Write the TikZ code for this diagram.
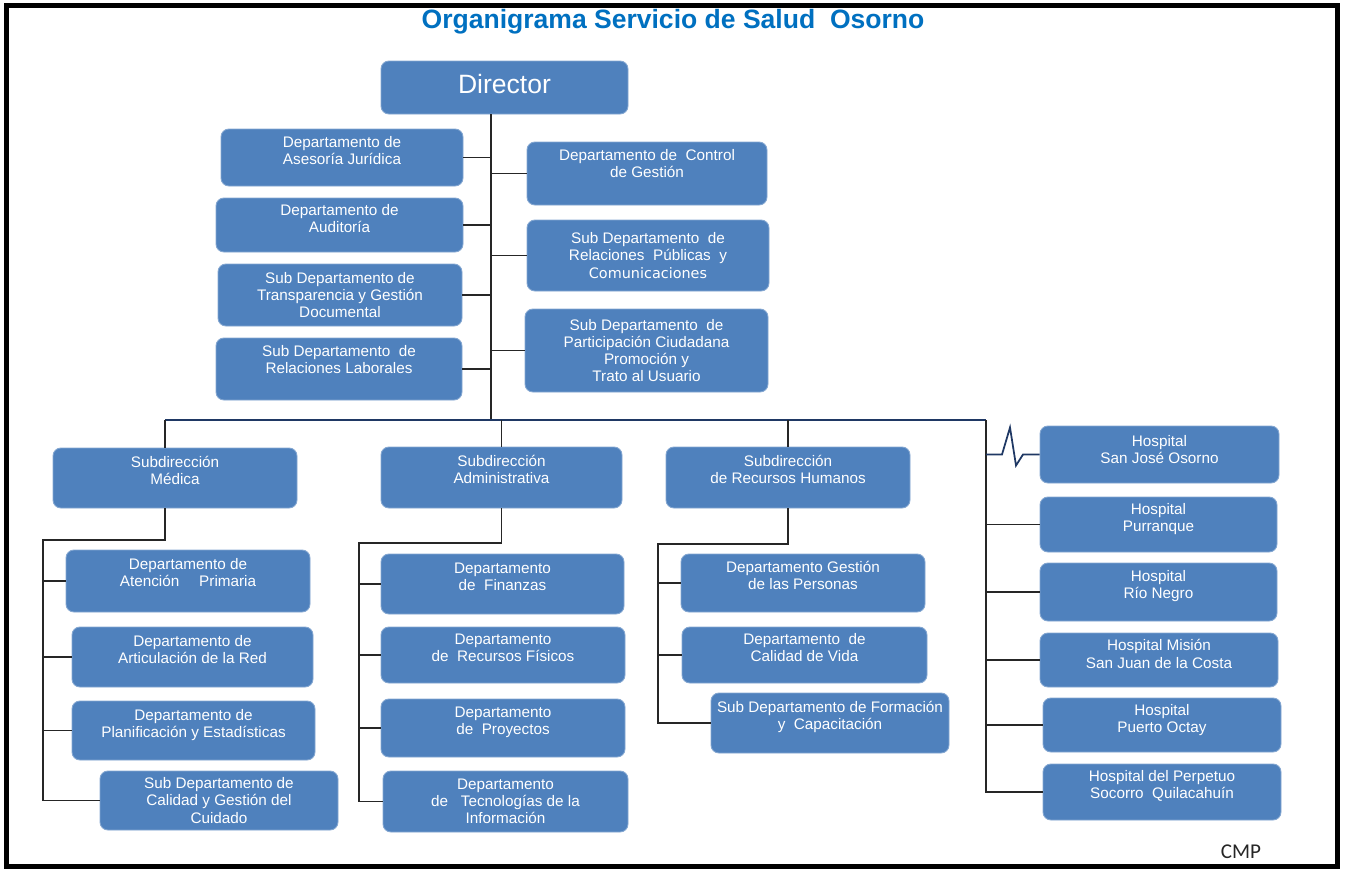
\documentclass[tikz,border=0pt]{standalone}
\usepackage{fontspec}
\setmainfont{Liberation Sans}
\newfontfamily\calfont{Carlito}
\newfontfamily\dvfont{DejaVu Sans}
\usepackage{tikz}
\definecolor{boxblue}{HTML}{4F81BD}
\definecolor{titleblue}{HTML}{0070C0}
\definecolor{barnavy}{HTML}{1F3864}

\begin{document}
\begin{tikzpicture}[x=0.02cm,y=-0.02cm,
  box/.style={fill=boxblue,draw=boxblue!70!white,line width=0.5pt,rounded corners=4.5pt,
    text=white,align=center,inner sep=0pt,font=\fontsize{8.7}{9.7}\selectfont},
  sz/.style 2 args={minimum width=#1*0.02cm,minimum height=#2*0.02cm},
  lift/.style={execute at end node={\rule[-#1]{0pt}{0pt}}},
  lift/.default=8.5pt,
  link/.style={line width=0.8pt,black!85},
  bar/.style={line width=1.4pt,barnavy}]
\useasboundingbox (0,0) rectangle (1346,869);
\draw[line width=2.8pt] (6.5,5.5) rectangle (1337.5,866.5);
\node (title) at (673,28) [anchor=base,text=titleblue,font=\bfseries\fontsize{15.1}{18}\selectfont] {Organigrama Servicio de Salud\ \ Osorno};
\node (dir) at (504.5,87.5) [box,lift=4pt,sz={247}{53},font=\fontsize{15.1}{17}\selectfont] {Director};
\node (ases) at (342,157.5) [box,lift,sz={242}{57}] {Departamento de\\Asesoría Jurídica};
\node (audit) at (339.5,225) [box,lift=7pt,sz={247}{54}] {Departamento de\\Auditoría};
\node (transp) at (340,295) [box,sz={244}{62}] {Sub Departamento de\\Transparencia y Gestión\\Documental};
\node (laboral) at (339,369) [box,lift=11pt,sz={246}{62}] {Sub Departamento\ \ de\\Relaciones Laborales};
\node (control) at (647,173.5) [box,lift=11pt,sz={240}{63}] {Departamento de\ \ Control\\de Gestión};
\node (relpub) at (648,255.5) [box,sz={242}{71}] {Sub Departamento\ \ de\\Relaciones\ \ Públicas\ \ y\\[1pt]{\dvfont\fontsize{8.2}{10}\selectfont Comunicaciones}};
\node (partic) at (646.5,350.5) [box,sz={243}{83}] {Sub Departamento\ \ de\\Participación Ciudadana\\Promoción y\\Trato al Usuario};
\node (subMed) at (175,478) [box,lift,sz={244}{60}] {Subdirección\\Médica};
\node (subAdm) at (501.5,477.5) [box,lift=9pt,sz={241}{61}] {Subdirección\\Administrativa};
\node (subRH) at (788,477.5) [box,lift=9pt,sz={244}{61}] {Subdirección\\de Recursos Humanos};
\node (aps) at (188,581) [box,lift=9.5pt,sz={244}{62}] {Departamento de\\Atención\hspace{1.3em}Primaria};
\node (red) at (192.5,657) [box,lift,sz={241}{60}] {Departamento de\\Articulación de la Red};
\node (plan) at (193.5,730.5) [box,lift,sz={243}{59}] {Departamento de\\Planificación y Estadísticas};
\node (cal) at (219,800.5) [box,sz={238}{59}] {Sub Departamento de\\Calidad y Gestión del\\Cuidado};
\node (fin) at (502.5,584) [box,lift,sz={243}{60}] {Departamento\\de\ \ Finanzas};
\node (recf) at (503,655) [box,lift,sz={244}{56}] {Departamento\\de\ \ Recursos Físicos};
\node (proy) at (503,728) [box,lift,sz={244}{58}] {Departamento\\de\ \ Proyectos};
\node (tic) at (505.5,801.5) [box,sz={245}{61}] {Departamento\\de\ \ \ Tecnologías de la\\Información};
\node (pers) at (803,583) [box,lift,sz={244}{58}] {Departamento Gestión\\de las Personas};
\node (vida) at (804.5,655) [box,lift,sz={245}{56}] {Departamento\ \ de\\Calidad de Vida};
\node (form) at (830,723) [box,lift,sz={238}{60}] {Sub Departamento de Formación\\y\ \ Capacitación};
\node (hSJ) at (1159.5,454.5) [box,lift=5.5pt,sz={239}{57}] {Hospital\\San José Osorno};
\node (hPur) at (1158.5,524.5) [box,lift,sz={237}{55}] {Hospital\\Purranque};
\node (hRN) at (1158.5,592) [box,lift,sz={237}{58}] {Hospital\\Río Negro};
\node (hMis) at (1159,660) [box,lift=7pt,sz={238}{54}] {Hospital Misión\\San Juan de la Costa};
\node (hPO) at (1162,725) [box,lift=7pt,sz={238}{54}] {Hospital\\Puerto Octay};
\node (hPQ) at (1162,792) [box,lift,sz={238}{56}] {Hospital del Perpetuo\\Socorro\ \ Quilacahuín};
\node (cmp) at (1241,858) [anchor=base,text=black!85,font=\calfont\fontsize{12}{14}\selectfont] {CMP};
\coordinate (spine) at (491,420);
\coordinate (barL) at (165,420);
\coordinate (barR) at (986,420);
\coordinate (medA) at (43,540);
\coordinate (admA) at (359,543);
\coordinate (rhA) at (658,544);
\draw[link] (dir.south -| spine) -- (spine);
\foreach \n in {ases,audit,transp,laboral,control,relpub,partic}
  \draw[link] (\n) -- (\n -| spine);
\draw[bar] (barL) -- (barR);
\draw[link] (barL) -- (barL |- subMed.north);
\draw[link] (subAdm.north |- spine) -- (subAdm.north);
\draw[link] (subRH.north |- spine) -- (subRH.north);
\draw[link] (barL |- subMed.south) -- (barL |- medA) -- (medA) -- (medA |- cal) -- (cal);
\foreach \n in {aps,red,plan}
  \draw[link] (\n) -- (\n -| medA);
\draw[link] (subAdm.south) -- (subAdm.south |- admA) -- (admA) -- (admA |- tic) -- (tic);
\foreach \n in {fin,recf,proy}
  \draw[link] (\n) -- (\n -| admA);
\draw[link] (subRH.south) -- (subRH.south |- rhA) -- (rhA) -- (rhA |- form) -- (form);
\foreach \n in {pers,vida}
  \draw[link] (\n) -- (\n -| rhA);
\draw[link] (barR) -- (barR |- hPQ) -- (hPQ);
\foreach \n in {hPur,hRN,hMis,hPO}
  \draw[link] (\n) -- (\n -| barR);
\draw[barnavy,line width=1pt] (barR |- hSJ) -- ++(16,0) -- ++(8,-27) -- ++(6,38) -- ++(7,-11) -- (hSJ);
\end{tikzpicture}
\end{document}
